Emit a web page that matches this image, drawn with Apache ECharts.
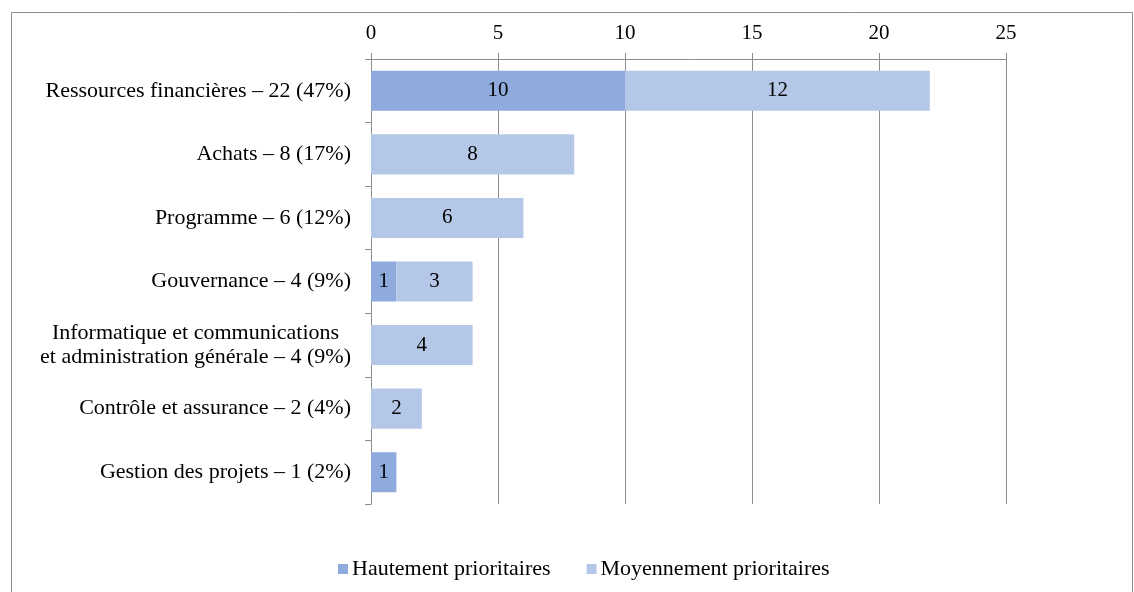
<!DOCTYPE html>
<html>
<head>
<meta charset="utf-8">
<script src="https://cdn.jsdelivr.net/npm/echarts@6/dist/echarts.min.js"></script>
<style>
  html, body { margin: 0; padding: 0; background: #fff; }
  #chart { width: 1134px; height: 592px; }
</style>
</head>
<body>
<div id="chart"></div>
<script>
// categories (top to bottom)
const categories = [
  'Ressources financières – 22 (47%)',
  'Achats – 8 (17%)',
  'Programme – 6 (12%)',
  'Gouvernance – 4 (9%)',
  'Informatique et communications\net administration générale – 4 (9%)',
  'Contrôle et assurance – 2 (4%)',
  'Gestion des projets – 1 (2%)'
]
const hautement = [10, 0, 0, 1, 0, 0, 1]
const moyennement = [12, 8, 6, 3, 4, 2, 0]
const xTicks = [0, 5, 10, 15, 20, 25]

const font = 'Liberation Serif'
const chart = echarts.init(document.getElementById('chart'))

const labelStyle = {
  show: true,
  position: 'inside',
  color: '#000',
  fontFamily: font,
  fontSize: 21,
  formatter: p => (p.value ? p.value : '')
}

chart.setOption({
  animation: false,
  textStyle: { fontFamily: font },
  graphic: [
    {
      type: 'rect',
      shape: { x: 11.5, y: 12.5, width: 1121, height: 600 },
      style: { fill: 'none', stroke: '#8c8c8c', lineWidth: 1 },
      silent: true
    }
  ],
  legend: {
    left: 333,
    top: 553,
    itemWidth: 10,
    itemHeight: 10,
    itemGap: 36,
    icon: 'rect',
    textStyle: { fontFamily: font, fontSize: 22, color: '#000', padding: [0, 0, 0, -1] },
    data: ['Hautement prioritaires', 'Moyennement prioritaires']
  },
  grid: { left: 371, right: 128, top: 59, bottom: 88 },
  xAxis: {
    type: 'value',
    position: 'top',
    min: xTicks[0],
    max: xTicks[xTicks.length - 1],
    interval: 5,
    axisLine: { show: true, lineStyle: { color: '#8c8c8c', width: 1 } },
    axisTick: { show: true, length: 6, lineStyle: { color: '#8c8c8c' } },
    axisLabel: { color: '#000', fontFamily: font, fontSize: 21, margin: 15 },
    splitLine: { show: true, lineStyle: { color: '#8c8c8c', width: 1 } }
  },
  yAxis: {
    type: 'category',
    inverse: true,
    data: categories,
    axisLine: { show: true, lineStyle: { color: '#8c8c8c', width: 1 } },
    axisTick: { show: true, length: 6, lineStyle: { color: '#8c8c8c' } },
    axisLabel: {
      color: '#000',
      fontFamily: font,
      fontSize: 22,
      margin: 20,
      lineHeight: 24,
      formatter: v => v.split('\n').map(s => '{c|' + s + '}').join('\n'),
      rich: { c: { align: 'center', fontFamily: font, fontSize: 22, color: '#000', lineHeight: 24 } }
    }
  },
  series: [
    {
      name: 'Hautement prioritaires',
      type: 'bar',
      stack: 'total',
      barWidth: '63%',
      data: hautement,
      itemStyle: { color: '#8faadc' },
      label: labelStyle
    },
    {
      name: 'Moyennement prioritaires',
      type: 'bar',
      stack: 'total',
      barWidth: '63%',
      data: moyennement,
      itemStyle: { color: '#b4c7e7' },
      label: labelStyle
    }
  ]
})
</script>
</body>
</html>
